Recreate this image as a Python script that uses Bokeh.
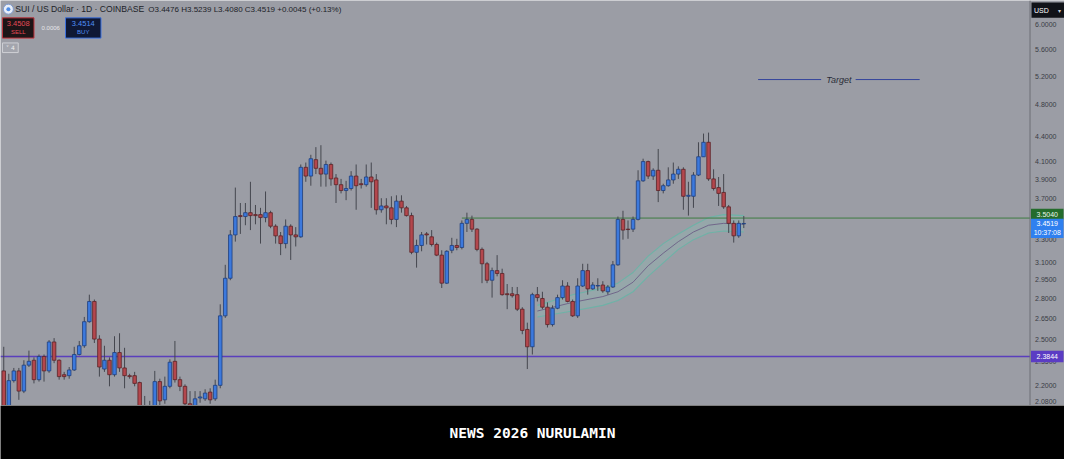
from bokeh.plotting import figure
from bokeh.models import Range1d, LogScale
from bokeh.layouts import column
from bokeh.embed import file_html
from bokeh.resources import INLINE
from bokeh.core.properties import value

# ---------------- data ----------------
opens = [2.291, 2.053, 2.230, 2.291, 2.166, 2.328, 2.360, 2.236, 2.385, 2.291,
         2.483, 2.360, 2.267, 2.261, 2.297, 2.398, 2.457, 2.627, 2.779, 2.503,
         2.303, 2.360, 2.267, 2.411, 2.310, 2.261, 2.261, 2.218, 2.080, 2.004,
         2.053, 2.224, 2.114, 2.195, 2.353, 2.236, 2.195, 2.091, 2.058, 2.125,
         2.120, 2.160, 2.120, 2.201, 2.670, 2.964, 3.344, 3.528, 3.519, 3.557,
         3.538, 3.538, 3.509, 3.557, 3.426, 3.335, 3.264, 3.426, 3.344, 3.326,
         4.035, 3.938, 4.122, 4.024, 3.960, 4.067, 3.917, 3.845, 3.783, 3.804,
         3.938, 3.855, 3.845, 3.928, 3.896, 3.586, 3.624, 3.605, 3.491, 3.673,
         3.605, 3.528, 3.186, 3.247, 3.353, 3.326, 3.256, 3.161, 2.924, 3.204,
         3.247, 3.229, 3.453, 3.491, 3.398, 3.212, 3.086, 2.948, 3.028, 3.004,
         2.839, 2.839, 2.832, 2.720, 2.571, 2.450, 2.832, 2.802, 2.735, 2.606,
         2.727, 2.809, 2.901, 2.779, 2.670, 2.901, 3.028, 2.878, 2.901, 2.909,
         2.855, 2.893, 3.077, 3.491, 3.398, 3.398, 3.491, 3.886, 4.100, 3.938,
         4.002, 3.783, 3.834, 3.896, 3.960, 4.013, 3.723, 3.723, 3.949, 4.155,
         4.326, 3.907, 3.814, 3.763, 3.615, 3.453, 3.335, 3.4476]
highs = [2.450, 2.273, 2.310, 2.310, 2.360, 2.424, 2.379, 2.398, 2.398, 2.496,
         2.510, 2.366, 2.285, 2.316, 2.450, 2.490, 2.662, 2.832, 2.794, 2.530,
         2.457, 2.379, 2.523, 2.544, 2.443, 2.273, 2.285, 2.224, 2.137, 2.108,
         2.291, 2.242, 2.255, 2.366, 2.490, 2.255, 2.207, 2.166, 2.166, 2.166,
         2.177, 2.183, 2.236, 2.757, 3.077, 3.389, 3.814, 3.654, 3.654, 3.876,
         3.634, 3.605, 3.773, 3.576, 3.444, 3.371, 3.491, 3.444, 3.417, 4.067,
         4.089, 4.178, 4.268, 4.291, 4.111, 4.089, 3.960, 3.907, 3.886, 3.992,
         4.067, 3.907, 4.067, 4.089, 3.960, 3.703, 3.703, 3.723, 3.733, 3.733,
         3.624, 3.557, 3.300, 3.371, 3.371, 3.389, 3.273, 3.204, 3.204, 3.317,
         3.308, 3.481, 3.557, 3.528, 3.407, 3.229, 3.102, 3.053, 3.161, 3.044,
         2.917, 2.893, 2.893, 2.735, 2.620, 2.847, 2.893, 2.855, 2.772, 2.749,
         2.832, 2.948, 2.932, 2.794, 2.964, 3.086, 3.086, 2.932, 2.964, 2.940,
         2.909, 3.110, 3.519, 3.576, 3.481, 3.519, 4.002, 4.133, 4.111, 4.024,
         4.246, 3.855, 4.035, 4.089, 4.046, 4.035, 3.876, 3.981, 4.326, 4.432,
         4.444, 4.013, 3.928, 3.960, 3.634, 3.481, 3.481, 3.5239]
lows = [2.025, 2.025, 2.218, 2.114, 2.154, 2.316, 2.213, 2.224, 2.224, 2.279,
        2.341, 2.236, 2.236, 2.242, 2.291, 2.392, 2.443, 2.620, 2.476, 2.255,
        2.285, 2.195, 2.255, 2.285, 2.183, 2.242, 2.195, 2.036, 1.993, 1.982,
        2.036, 2.080, 2.091, 2.183, 2.218, 2.166, 2.053, 2.025, 2.042, 2.097,
        2.108, 2.091, 2.108, 2.183, 2.655, 2.948, 3.282, 3.353, 3.435, 3.389,
        3.444, 3.264, 3.463, 3.407, 3.264, 3.161, 3.221, 3.119, 3.238, 3.317,
        3.876, 3.834, 3.960, 3.824, 3.824, 3.834, 3.654, 3.753, 3.683, 3.783,
        3.586, 3.804, 3.824, 3.605, 3.538, 3.557, 3.444, 3.444, 3.417, 3.557,
        3.519, 3.169, 3.053, 3.195, 3.256, 3.238, 3.152, 2.885, 2.917, 3.178,
        3.204, 3.212, 3.371, 3.371, 3.195, 2.924, 2.924, 2.809, 2.980, 2.824,
        2.720, 2.809, 2.706, 2.537, 2.303, 2.398, 2.779, 2.720, 2.585, 2.592,
        2.720, 2.794, 2.772, 2.662, 2.655, 2.893, 2.832, 2.870, 2.862, 2.847,
        2.832, 2.885, 3.069, 3.300, 3.308, 3.371, 3.481, 3.876, 3.907, 3.896,
        3.663, 3.753, 3.824, 3.855, 3.907, 3.586, 3.528, 3.605, 3.938, 4.155,
        3.886, 3.783, 3.624, 3.595, 3.362, 3.273, 3.317, 3.4080]
closes = [2.053, 2.230, 2.291, 2.166, 2.328, 2.353, 2.236, 2.385, 2.291, 2.483,
          2.360, 2.255, 2.255, 2.297, 2.398, 2.457, 2.627, 2.779, 2.503, 2.316,
          2.360, 2.267, 2.411, 2.310, 2.261, 2.255, 2.213, 2.058, 2.014, 2.069,
          2.224, 2.108, 2.195, 2.347, 2.236, 2.195, 2.091, 2.047, 2.120, 2.131,
          2.154, 2.114, 2.201, 2.670, 2.964, 3.344, 3.519, 3.519, 3.557, 3.528,
          3.528, 3.509, 3.557, 3.426, 3.335, 3.264, 3.426, 3.344, 3.326, 4.035,
          3.938, 4.133, 4.024, 3.960, 4.067, 3.907, 3.845, 3.783, 3.804, 3.938,
          3.834, 3.845, 3.928, 3.876, 3.586, 3.624, 3.605, 3.491, 3.673, 3.605,
          3.528, 3.186, 3.247, 3.344, 3.344, 3.256, 3.161, 2.924, 3.195, 3.247,
          3.229, 3.453, 3.491, 3.398, 3.212, 3.086, 2.948, 3.028, 3.004, 2.832,
          2.832, 2.824, 2.720, 2.564, 2.450, 2.832, 2.809, 2.735, 2.606, 2.727,
          2.809, 2.901, 2.779, 2.670, 2.901, 3.028, 2.878, 2.909, 2.905, 2.862,
          2.893, 3.077, 3.491, 3.389, 3.394, 3.491, 3.886, 4.100, 3.938, 4.002,
          3.783, 3.834, 3.896, 3.960, 4.013, 3.723, 3.733, 3.949, 4.155, 4.326,
          3.907, 3.804, 3.753, 3.615, 3.453, 3.335, 3.453, 3.4519]

# moving-average envelope (sampled at candle indices)
band_idx = [106, 113, 119, 122, 125, 128, 131, 134, 137, 140, 143, 147]
band_upper = [2.749, 2.832, 2.885, 2.924, 3.012, 3.152, 3.264, 3.353, 3.435, 3.509, 3.538, 3.528]
band_mid = [2.706, 2.772, 2.817, 2.855, 2.932, 3.069, 3.178, 3.282, 3.371, 3.435, 3.453, 3.444]
band_lower = [2.662, 2.706, 2.749, 2.787, 2.855, 2.980, 3.094, 3.212, 3.300, 3.362, 3.380, 3.371]

resistance_price = 3.504
resistance_start = 91
support_price = 2.3844
target_price = 5.15
last_price = 3.4519
sell_price = 3.4508
buy_price = 3.4514
spread = "0.0006"
change_text = "+0.0045 (+0.13%)"
countdown = "10:37:08"
price_ticks = [6.0, 5.6, 5.2, 4.8, 4.4, 4.1, 3.9, 3.7, 3.3, 3.1, 2.95, 2.8, 2.65, 2.5, 2.35, 2.2, 2.08]

# ---------------- layout helpers ----------------
W, H_MAIN, H_BANNER = 1064, 405, 54
REF_W, REF_H = 1080.0, 420.0
STEP, X0 = 5.11, 3.3
x_start, x_end = -X0 / STEP, (REF_W - X0) / STEP
y_lo, y_hi = 2.081, 6.416


def ix(px):
    return (px - X0) / STEP


def wx(px):
    return px / STEP


def py(px):
    return y_hi * (y_lo / y_hi) ** (px / REF_H)


def shift(price, dpx):
    return price * (y_hi / y_lo) ** (dpx / REF_H)


def hs(px):
    return px * H_MAIN / REF_H


BG = "#9b9da5"
FONT = value("Liberation Sans")

p = figure(width=W, height=H_MAIN, x_range=Range1d(x_start, x_end), y_range=Range1d(y_lo, y_hi),
           y_axis_type="log", x_axis_location=None, y_axis_location=None,
           toolbar_location=None, output_backend="svg", min_border=0,
           background_fill_color=BG, border_fill_color=BG, outline_line_color=None)
p.y_scale = LogScale()
p.xgrid.visible = False
p.ygrid.visible = False

# envelope
p.varea(x=band_idx, y1=band_lower, y2=band_upper, fill_color="#86c9bd", fill_alpha=0.25)
p.line(band_idx, band_upper, line_color="#6cb3a6", line_width=1.1, line_alpha=0.95)
p.line(band_idx, band_lower, line_color="#6cb3a6", line_width=1.1, line_alpha=0.95)
p.line(band_idx, band_mid, line_color="#6d5f86", line_width=1, line_alpha=0.9)

# horizontal levels
axis_x = ix(1045)
p.line([x_start, axis_x], [support_price, support_price], line_color="#5a3fbd", line_width=1.5)
p.line([resistance_start, axis_x], [resistance_price, resistance_price], line_color="#3f7d42", line_width=1)

# target
p.line([ix(769), ix(833)], [target_price, target_price], line_color="#34459c", line_width=1)
p.line([ix(868), ix(933)], [target_price, target_price], line_color="#34459c", line_width=1)
p.text(x=[ix(851)], y=[target_price], text=["Target"], text_font=FONT, text_font_style="italic",
       text_font_size="9px", text_color="#2a2d38", text_align="center", text_baseline="middle")

# candles
idx = list(range(len(opens)))
up = [c >= o for o, c in zip(opens, closes)]
tops = [max(o, c) for o, c in zip(opens, closes)]
bots = [min(o, c) for o, c in zip(opens, closes)]
fills = ["#3c79dd" if u else "#b3474d" for u in up]
borders = ["#1f3f7c" if u else "#5c2327" for u in up]
p.segment(x0=idx, y0=lows, x1=idx, y1=highs, line_color="#45474f", line_width=1)
p.vbar(x=idx, width=0.7, top=tops, bottom=bots, fill_color=fills, line_color=borders, line_width=0.8)

# price axis
p.line([axis_x, axis_x], [y_lo, y_hi], line_color="#6c6e77", line_width=1)
lab_x = ix(1061)
tick_y = [t if shift(t, -4) > y_lo else shift(t, 4.5) for t in price_ticks]
p.text(x=[lab_x] * len(price_ticks), y=tick_y, text=[f"{t:.4f}" for t in price_ticks],
       text_font=FONT, text_font_size="7px", text_color="#3a3c44", text_align="center",
       text_baseline="middle")

box_x, box_w = ix(1062.5), wx(33)
# resistance label
g_y = shift(resistance_price, 4.2)
p.rect(x=[box_x], y=[g_y], width=box_w, height=hs(11), height_units="screen",
       fill_color="#246c2c", line_color=None)
p.text(x=[box_x], y=[g_y], text=[f"{resistance_price:.4f}"], text_font=FONT, text_font_size="7px",
       text_color="#eaf6ea", text_align="center", text_baseline="middle")
# last price label
b_y = shift(last_price, -5)
p.rect(x=[box_x], y=[b_y], width=box_w, height=hs(20), height_units="screen",
       fill_color="#2f80ef", line_color=None)
p.text(x=[box_x], y=[shift(last_price, -0.3)], text=[f"{last_price:.4f}"], text_font=FONT,
       text_font_size="7px", text_color="white", text_align="center", text_baseline="middle")
p.text(x=[box_x], y=[shift(last_price, -9.5)], text=[countdown], text_font=FONT,
       text_font_size="7px", text_color="white", text_align="center", text_baseline="middle")
# support label
p.rect(x=[box_x], y=[support_price], width=box_w, height=hs(12), height_units="screen",
       fill_color="#5b3cc4", line_color=None)
p.text(x=[box_x], y=[support_price], text=[f"{support_price:.4f}"], text_font=FONT,
       text_font_size="7px", text_color="white", text_align="center", text_baseline="middle")
# currency box
p.rect(x=[ix(1063)], y=[py(10)], width=wx(33), height=hs(16), height_units="screen",
       fill_color="#111319", line_color=None)
p.text(x=[ix(1049)], y=[py(10)], text=["USD"], text_font=FONT, text_font_size="7px",
       text_color="white", text_align="left", text_baseline="middle")
p.text(x=[ix(1075)], y=[py(10)], text=["▾"], text_font=value("DejaVu Sans"), text_font_size="6px",
       text_color="#d0d0d0", text_align="center", text_baseline="middle")

# header
p.scatter(x=[ix(8)], y=[py(9)], size=10, marker="circle", fill_color="#e8eef8",
          line_color="#7f9bd0", line_width=1)
p.scatter(x=[ix(8)], y=[py(9)], size=4, marker="circle", fill_color="#4d8ce6", line_color=None)
p.text(x=[ix(15)], y=[py(9)], text=["SUI / US Dollar · 1D · COINBASE"], text_font=FONT,
       text_font_size="8.6px", text_color="#1d1f29", text_align="left", text_baseline="middle")
ohlc = (f"O{opens[-1]:.4f}  H{highs[-1]:.4f}  L{lows[-1]:.4f}  C{closes[-1]:.4f}  " + change_text)
p.text(x=[ix(150)], y=[py(9)], text=[ohlc], text_font=FONT, text_font_size="8px",
       text_color="#1d1f29", text_align="left", text_baseline="middle")

p.rect(x=[ix(18)], y=[py(28.5)], width=wx(32), height=hs(21), height_units="screen",
       fill_color="#1d1517", line_color="#c0353d", line_width=1)
p.text(x=[ix(18)], y=[py(23.5)], text=[f"{sell_price:.4f}"], text_font=FONT, text_font_size="7.5px",
       text_color="#e24a56", text_align="center", text_baseline="middle")
p.text(x=[ix(18)], y=[py(33)], text=["SELL"], text_font=FONT, text_font_size="6px",
       text_color="#e24a56", text_align="center", text_baseline="middle")
p.text(x=[ix(51)], y=[py(28.5)], text=[spread], text_font=FONT, text_font_size="6px",
       text_color="#e6e6ea", text_align="center", text_baseline="middle")
p.rect(x=[ix(84)], y=[py(28.5)], width=wx(36), height=hs(21), height_units="screen",
       fill_color="#0f1834", line_color="#3e72de", line_width=1)
p.text(x=[ix(84)], y=[py(23.5)], text=[f"{buy_price:.4f}"], text_font=FONT, text_font_size="7.5px",
       text_color="#4f8ff5", text_align="center", text_baseline="middle")
p.text(x=[ix(84)], y=[py(33)], text=["BUY"], text_font=FONT, text_font_size="6px",
       text_color="#4f8ff5", text_align="center", text_baseline="middle")
p.rect(x=[ix(10)], y=[py(49)], width=wx(16), height=hs(10), height_units="screen",
       fill_color="#a3a5ad", line_color="#cfd0d5", line_width=1)
p.text(x=[ix(10)], y=[py(49)], text=["˅ 4"], text_font=value("DejaVu Sans"), text_font_size="6px",
       text_color="#eeeeee", text_align="center", text_baseline="middle")

# banner
b = figure(width=W, height=H_BANNER, x_range=Range1d(0, 1), y_range=Range1d(0, 1),
           x_axis_location=None, y_axis_location=None, toolbar_location=None,
           output_backend="svg", min_border=0, background_fill_color="black",
           border_fill_color="black", outline_line_color=None)
b.xgrid.visible = False
b.ygrid.visible = False
b.text(x=[0.5], y=[0.5], text=["NEWS 2026 NURULAMIN"], text_color="white",
       text_font=value("DejaVu Sans Mono"), text_font_style="bold", text_font_size="14.5px",
       text_align="center", text_baseline="middle")

layout = column(p, b, spacing=0)
open("out.html", "w").write(file_html(layout, INLINE))
